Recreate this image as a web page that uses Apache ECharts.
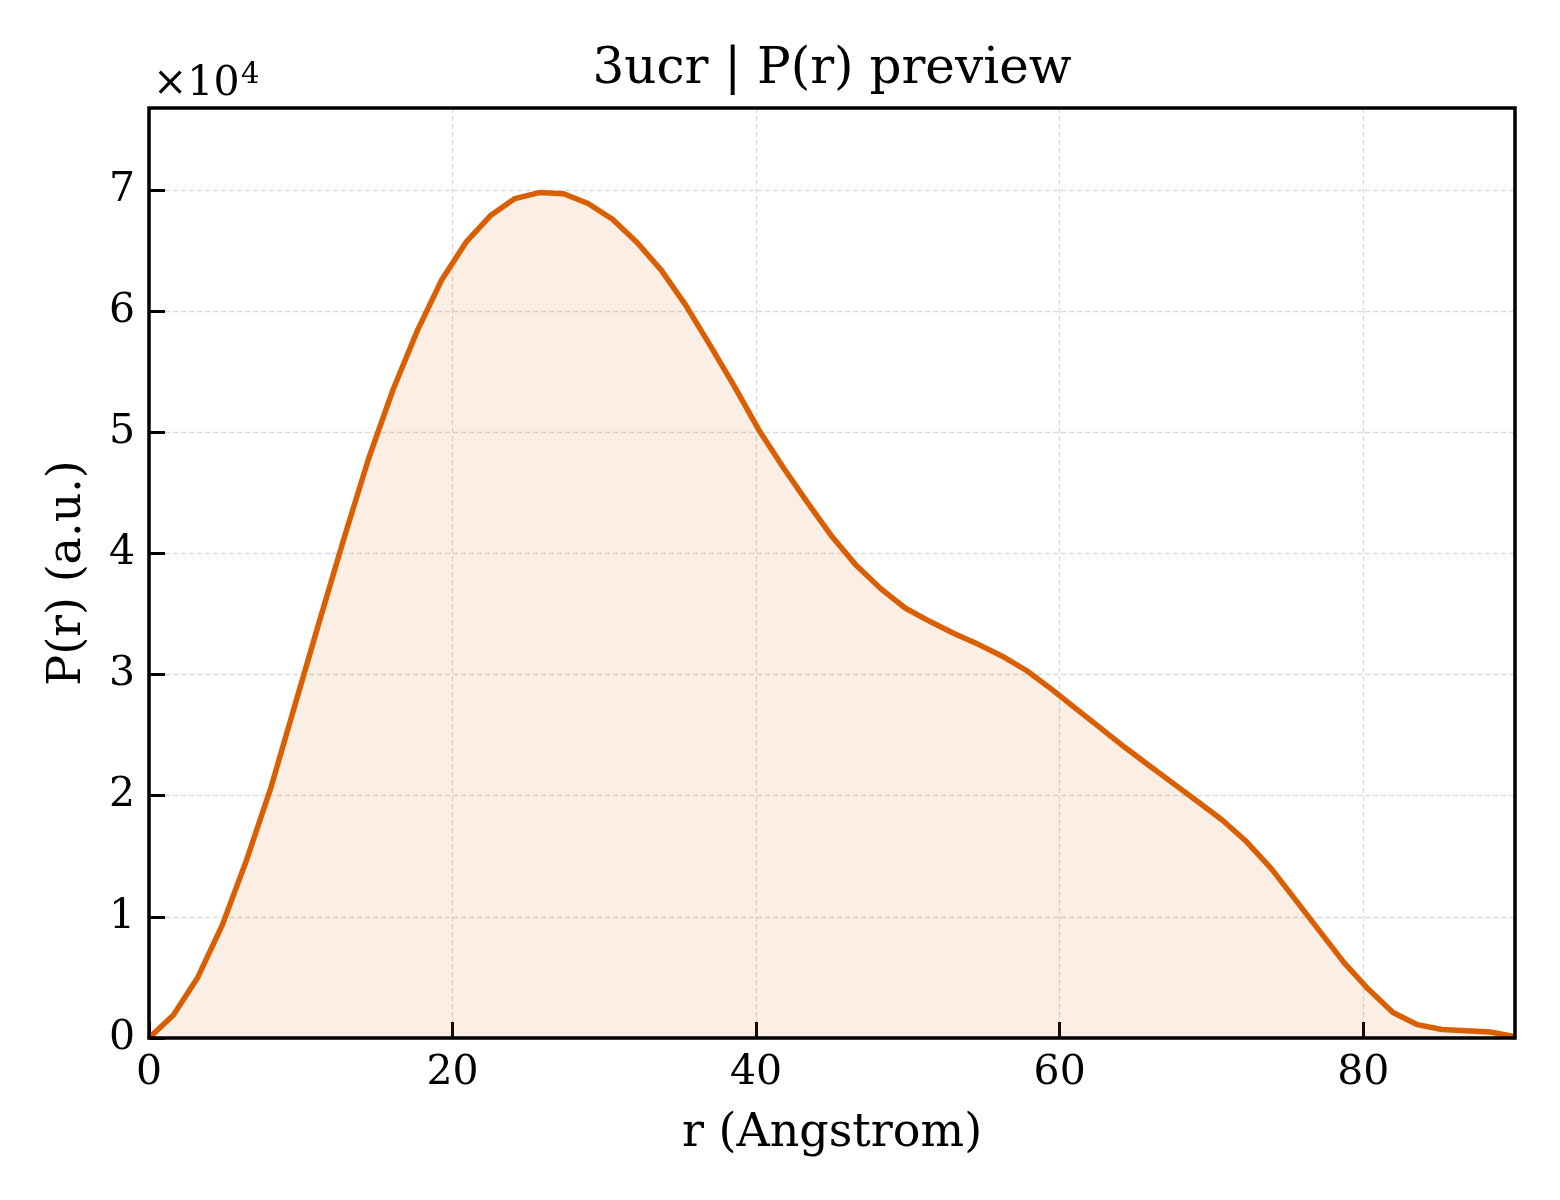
<!DOCTYPE html>
<html>
<head>
<meta charset="utf-8">
<script src="https://cdn.jsdelivr.net/npm/echarts@6/dist/echarts.min.js"></script>
<style>
  html, body { margin: 0; padding: 0; background: #fff; }
  #chartmain { width: 1560px; height: 1200px; }
</style>
</head>
<body>
<div id="chartmain"></div>
<script>
// r in Angstrom
var r = [0.00, 1.61, 3.21, 4.82, 6.43, 8.04, 9.64, 11.25, 12.86, 14.46,
  16.07, 17.68, 19.29, 20.89, 22.50, 24.11, 25.71, 27.32, 28.93, 30.54,
  32.14, 33.75, 35.36, 36.96, 38.57, 40.18, 41.79, 43.39, 45.00, 46.61,
  48.21, 49.82, 51.43, 53.04, 54.64, 56.25, 57.86, 59.46, 61.07, 62.68,
  64.29, 65.89, 67.50, 69.11, 70.71, 72.32, 73.93, 75.54, 77.14, 78.75,
  80.36, 81.96, 83.57, 85.18, 86.79, 88.39, 90.00];
// P(r) values
var pr = [0, 1900, 5000, 9300, 14700, 20700, 27600, 34500, 41300, 47800,
  53500, 58400, 62600, 65700, 67900, 69300, 69800, 69700, 68900, 67600,
  65700, 63400, 60500, 57200, 53800, 50200, 47100, 44200, 41400, 39000,
  37100, 35500, 34400, 33400, 32500, 31500, 30300, 28800, 27200, 25600,
  24000, 22500, 21000, 19500, 18000, 16200, 14000, 11400, 8800, 6200,
  4000, 2100, 1100, 700, 600, 500, 100];
var xTicks = [0, 20, 40, 60, 80];
var yTicks = [0, 1, 2, 3, 4, 5, 6, 7];

var font = 'DejaVu Serif';
var pts = [];
for (var i = 0; i < r.length; i++) {
  pts.push([r[i], pr[i]]);
}

var myChart = echarts.init(document.getElementById('chartmain'));
var option = {
  backgroundColor: '#fff',
  animation: false,
  grid: { left: 149, top: 108, width: 1366, height: 930, show: false },
  graphic: [
    { type: 'text', x: 832, y: 70, style: { text: '3ucr | P(r) preview', font: '50px "DejaVu Serif"', fill: '#000', textAlign: 'center', textVerticalAlign: 'middle' } },
    { type: 'text', x: 153, y: 105, style: { text: '×10', font: '41px "DejaVu Serif"', fill: '#000', textAlign: 'left', textVerticalAlign: 'bottom' } },
    { type: 'text', x: 241, y: 90, style: { text: '4', font: '29px "DejaVu Serif"', fill: '#000', textAlign: 'left', textVerticalAlign: 'bottom' } },
    { type: 'rect', z: 100, shape: { x: 149, y: 108, width: 1366, height: 930 }, style: { fill: 'none', stroke: '#000', lineWidth: 3.5 } }
  ],
  xAxis: {
    type: 'value', min: 0, max: 90, interval: 20,
    name: 'r (Angstrom)', nameLocation: 'middle', nameGap: 73,
    nameTextStyle: { fontFamily: font, fontSize: 46, color: '#000' },
    axisLine: { show: false },
    axisTick: { show: true, inside: true, length: 16, lineStyle: { color: '#000', width: 3 } },
    axisLabel: {
      fontFamily: font, fontSize: 41, color: '#000', margin: 15, showMaxLabel: false,
      formatter: function (v) { return xTicks.indexOf(v) >= 0 ? String(v) : ''; }
    },
    splitLine: { show: true, lineStyle: { color: '#d9d9d9', width: 1.3, type: [5, 3] } }
  },
  yAxis: {
    type: 'value', min: 0, max: 76780, interval: 10000,
    name: 'P(r) (a.u.)', nameLocation: 'middle', nameGap: 58, nameRotate: 90,
    nameTextStyle: { fontFamily: font, fontSize: 46, color: '#000' },
    axisLine: { show: false },
    axisTick: { show: true, inside: true, length: 16, lineStyle: { color: '#000', width: 3 } },
    axisLabel: {
      fontFamily: font, fontSize: 41, color: '#000', margin: 14, showMaxLabel: false,
      formatter: function (v) {
        var k = v / 10000;
        return yTicks.indexOf(k) >= 0 ? String(k) : '';
      }
    },
    splitLine: { show: true, lineStyle: { color: '#d9d9d9', width: 1.3, type: [5, 3] } }
  },
  series: [{
    type: 'line',
    data: pts,
    showSymbol: false,
    lineStyle: { color: '#d95f02', width: 5.5 },
    areaStyle: { color: 'rgba(217,95,2,0.15)', origin: 'start' },
    z: 3
  }]
};
myChart.setOption(option);
</script>
</body>
</html>
